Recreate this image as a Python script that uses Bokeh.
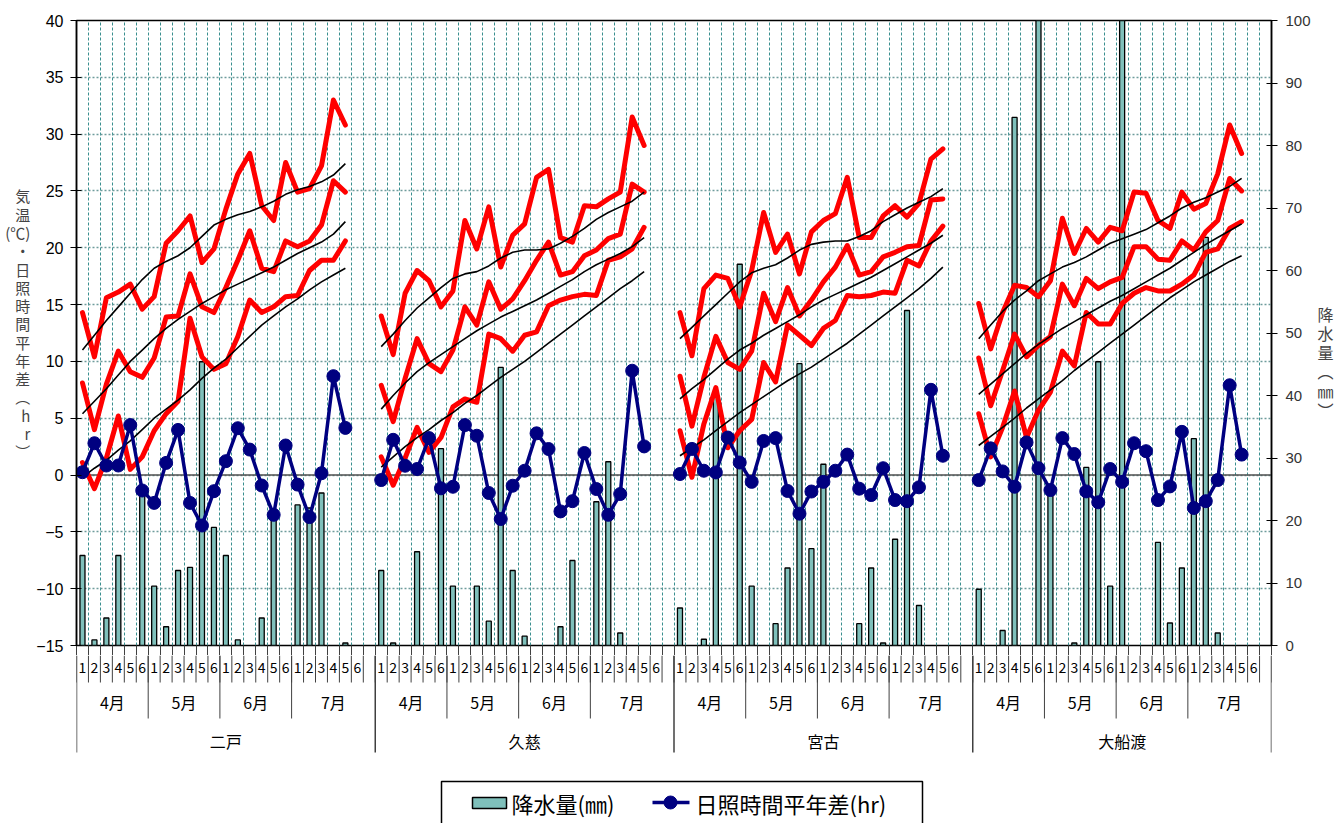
import math
from bokeh.plotting import figure
from bokeh.models import Range1d, LinearAxis, FixedTicker, Span
from bokeh.layouts import column
from bokeh.embed import file_html
from bokeh.resources import INLINE
from bokeh.core.properties import value

# ---------------- categories ----------------
STATIONS = ["二戸", "久慈", "宮古", "大船渡"]
MONTHS = ["4月", "5月", "6月", "7月"]
PENTADS = ["1", "2", "3", "4", "5", "6"]
SLOTS = 25  # 4 months x 6 pentads + 1 empty slot per station

LEFT_TICKS = list(range(-15, 41, 5))
RIGHT_TICKS = list(range(0, 101, 10))
LEFT_TITLE = "気温(℃)・日照時間平年差(hr)"
RIGHT_TITLE = "降水量(㎜)"

# ---------------- data (pentad values, Apr 1 .. Jul 5) ----------------
# 二戸
NINOHE_TMAX = [14.3, 10.4, 15.6, 16.1, 16.8, 14.6, 15.7, 20.4, 21.5, 22.8, 18.7, 19.9, 23.4, 26.5, 28.3, 23.7, 22.4, 27.5, 24.9, 25.2, 27.2, 33.0, 30.8]
NINOHE_TMEAN = [8.1, 4.0, 8.0, 10.9, 9.1, 8.6, 10.3, 13.9, 14.0, 17.7, 14.8, 14.3, 16.5, 18.9, 21.5, 18.2, 17.9, 20.6, 20.1, 20.6, 22.0, 25.9, 24.9]
NINOHE_TMIN = [1.1, -1.2, 1.5, 5.2, 0.5, 1.6, 3.9, 5.4, 6.5, 13.8, 10.4, 9.3, 9.8, 12.2, 15.4, 14.3, 14.8, 15.7, 15.8, 18.0, 18.9, 18.9, 20.6]
NINOHE_NMAX = [11.0, 12.3, 13.6, 14.8, 16.0, 17.2, 18.2, 18.8, 19.3, 20.0, 21.0, 22.0, 22.5, 22.9, 23.2, 23.6, 24.1, 24.7, 25.1, 25.4, 25.8, 26.4, 27.4]
NINOHE_NMEAN = [5.4, 6.5, 7.6, 8.8, 10.0, 11.0, 12.0, 12.9, 13.7, 14.4, 15.1, 15.7, 16.3, 16.8, 17.3, 17.8, 18.3, 18.9, 19.5, 20.0, 20.5, 21.2, 22.3]
NINOHE_NMIN = [-0.2, 0.6, 1.3, 2.2, 3.0, 4.0, 5.0, 5.8, 6.6, 7.5, 8.5, 9.4, 10.2, 11.2, 12.2, 13.2, 14.0, 14.8, 15.5, 16.3, 17.0, 17.6, 18.2]
NINOHE_SUN = [0.25, 2.8, 0.84, 0.84, 4.4, -1.36, -2.45, 1.07, 3.97, -2.45, -4.44, -1.42, 1.22, 4.12, 2.24, -0.92, -3.5, 2.6, -0.84, -3.7, 0.16, 8.7, 4.15]
NINOHE_PRECIP = [14.4, 0.9, 4.4, 14.4, 0, 24.8, 9.5, 3.0, 12.0, 12.5, 45.4, 18.9, 14.4, 0.9, 0, 4.4, 21.0, 0, 22.5, 22.0, 24.4, 0, 0.4]

# 久慈
KUJI_TMAX = [14.0, 10.6, 16.0, 18.0, 17.1, 14.8, 16.2, 22.4, 19.9, 23.6, 18.3, 21.1, 22.1, 26.2, 26.9, 20.9, 20.5, 23.7, 23.6, 24.3, 24.9, 31.5, 29.0]
KUJI_TMEAN = [7.9, 4.7, 8.5, 12.0, 9.8, 9.1, 11.0, 14.8, 13.2, 17.0, 14.6, 15.5, 17.1, 18.9, 20.5, 17.6, 17.9, 19.3, 19.8, 20.8, 21.2, 25.6, 24.9]
KUJI_TMIN = [1.6, -0.9, 1.5, 4.2, 2.0, 3.3, 6.0, 6.7, 6.4, 12.4, 12.0, 10.9, 12.3, 12.6, 14.9, 15.4, 15.7, 15.9, 15.8, 18.9, 19.2, 19.9, 21.8]
KUJI_NMAX = [11.3, 12.4, 13.6, 14.7, 15.6, 16.5, 17.3, 17.7, 17.9, 18.4, 19.1, 19.6, 19.8, 19.8, 19.9, 20.4, 21.0, 21.7, 22.5, 23.1, 23.6, 24.1, 24.9]
KUJI_NMEAN = [5.8, 7.0, 8.1, 9.1, 9.9, 10.6, 11.3, 12.0, 12.7, 13.3, 13.9, 14.4, 14.9, 15.4, 16.0, 16.6, 17.2, 17.9, 18.5, 19.0, 19.5, 20.1, 20.9]
KUJI_NMIN = [0.7, 1.6, 2.5, 3.3, 4.0, 4.8, 5.5, 6.3, 7.0, 7.8, 8.6, 9.3, 10.0, 10.8, 11.6, 12.4, 13.2, 14.0, 14.8, 15.6, 16.4, 17.1, 17.9]
KUJI_SUN = [-0.44, 3.1, 0.82, 0.53, 3.25, -1.17, -1.03, 4.4, 3.46, -1.58, -3.87, -0.94, 0.38, 3.67, 2.29, -3.2, -2.3, 1.94, -1.23, -3.5, -1.67, 9.18, 2.52]
KUJI_PRECIP = [12.0, 0.4, 0, 15.0, 0, 31.5, 9.5, 0, 9.5, 3.9, 44.5, 12.0, 1.5, 0, 0, 3.0, 13.6, 0, 23.0, 29.4, 2.0, 0, 0]

# 宮古
MIYAKO_TMAX = [14.3, 10.5, 16.4, 17.6, 17.3, 14.8, 18.0, 23.1, 19.6, 21.2, 17.7, 21.4, 22.4, 23.0, 26.2, 20.9, 20.9, 22.8, 23.7, 22.7, 23.9, 27.8, 28.7]
MIYAKO_TMEAN = [8.7, 4.3, 8.6, 12.2, 9.9, 9.3, 10.9, 16.0, 13.5, 16.5, 14.0, 15.4, 17.0, 18.3, 20.2, 17.6, 17.9, 19.2, 19.6, 20.1, 20.2, 24.2, 24.3]
MIYAKO_TMIN = [3.9, -0.2, 4.5, 7.7, 2.4, 3.9, 4.9, 9.9, 8.2, 13.2, 12.3, 11.4, 12.9, 13.6, 15.8, 15.7, 15.8, 16.1, 16.0, 18.9, 18.4, 20.6, 21.9]
MIYAKO_NMAX = [12.0, 13.0, 14.0, 15.0, 16.0, 17.0, 17.8, 18.2, 18.5, 19.1, 19.8, 20.3, 20.5, 20.6, 20.6, 21.0, 21.5, 22.3, 22.9, 23.5, 24.0, 24.5, 25.2]
MIYAKO_NMEAN = [6.7, 7.6, 8.4, 9.3, 10.2, 11.0, 11.6, 12.3, 12.9, 13.5, 14.1, 14.8, 15.4, 15.9, 16.4, 16.9, 17.4, 18.0, 18.6, 19.2, 19.8, 20.4, 21.1]
MIYAKO_NMIN = [1.7, 2.4, 3.1, 3.9, 4.7, 5.5, 6.2, 6.9, 7.6, 8.3, 8.9, 9.5, 10.2, 10.9, 11.6, 12.4, 13.2, 14.0, 14.8, 15.6, 16.4, 17.3, 18.3]
MIYAKO_SUN = [0.09, 2.3, 0.38, 0.23, 3.3, 1.1, -0.6, 3.0, 3.25, -1.4, -3.4, -1.45, -0.6, 0.38, 1.8, -1.2, -1.76, 0.6, -2.2, -2.3, -1.08, 7.5, 1.7]
MIYAKO_PRECIP = [6.0, 0, 1.0, 39.7, 0, 61.0, 9.5, 0, 3.5, 12.4, 45.1, 15.5, 29.0, 0, 0, 3.5, 12.4, 0.4, 17.0, 53.6, 6.4, 0, 0]

# 大船渡
OFUNATO_TMAX = [15.1, 11.1, 14.3, 16.7, 16.5, 15.7, 17.1, 22.6, 19.5, 21.7, 20.5, 21.8, 21.5, 24.9, 24.8, 22.4, 21.7, 24.9, 23.4, 23.9, 26.5, 30.8, 28.3]
OFUNATO_TMEAN = [10.3, 6.1, 9.2, 12.4, 10.4, 11.4, 12.2, 16.8, 14.9, 17.3, 16.4, 17.0, 17.4, 20.1, 20.1, 19.0, 18.9, 20.6, 19.8, 21.4, 22.4, 26.1, 25.0]
OFUNATO_TMIN = [5.4, 1.6, 4.2, 7.4, 3.3, 5.7, 7.3, 10.9, 9.6, 14.3, 13.3, 13.3, 15.1, 16.0, 16.5, 16.2, 16.2, 16.8, 17.6, 19.6, 19.9, 21.7, 22.3]
OFUNATO_NMAX = [12.0, 13.2, 14.4, 15.4, 16.2, 17.1, 17.7, 18.3, 18.7, 19.2, 19.8, 20.4, 20.8, 21.2, 21.6, 22.2, 22.8, 23.5, 24.0, 24.4, 24.9, 25.4, 26.1]
OFUNATO_NMEAN = [7.1, 8.0, 8.9, 9.8, 10.7, 11.5, 12.2, 12.9, 13.5, 14.1, 14.7, 15.3, 15.8, 16.4, 17.0, 17.6, 18.2, 18.9, 19.6, 20.3, 20.9, 21.5, 22.1]
OFUNATO_NMIN = [2.6, 3.4, 4.2, 5.0, 5.9, 6.7, 7.5, 8.3, 9.2, 10.0, 10.8, 11.6, 12.4, 13.2, 14.0, 14.8, 15.6, 16.3, 17.0, 17.6, 18.2, 18.8, 19.3]
OFUNATO_SUN = [-0.44, 2.35, 0.32, -1.03, 2.87, 0.6, -1.32, 3.25, 1.85, -1.44, -2.4, 0.53, -0.6, 2.8, 2.1, -2.2, -1.0, 3.8, -2.9, -2.3, -0.44, 7.9, 1.8]
OFUNATO_PRECIP = [9.0, 0, 2.4, 84.5, 0, 110.0, 25.0, 0, 0.4, 28.5, 45.4, 9.5, 105.0, 0, 0, 16.5, 3.6, 12.4, 33.1, 65.3, 2.0, 0, 0]

TMAX = [NINOHE_TMAX, KUJI_TMAX, MIYAKO_TMAX, OFUNATO_TMAX]
TMEAN = [NINOHE_TMEAN, KUJI_TMEAN, MIYAKO_TMEAN, OFUNATO_TMEAN]
TMIN = [NINOHE_TMIN, KUJI_TMIN, MIYAKO_TMIN, OFUNATO_TMIN]
NMAX = [NINOHE_NMAX, KUJI_NMAX, MIYAKO_NMAX, OFUNATO_NMAX]
NMEAN = [NINOHE_NMEAN, KUJI_NMEAN, MIYAKO_NMEAN, OFUNATO_NMEAN]
NMIN = [NINOHE_NMIN, KUJI_NMIN, MIYAKO_NMIN, OFUNATO_NMIN]
SUN = [NINOHE_SUN, KUJI_SUN, MIYAKO_SUN, OFUNATO_SUN]
PRECIP = [NINOHE_PRECIP, KUJI_PRECIP, MIYAKO_PRECIP, OFUNATO_PRECIP]

# ---------------- styles ----------------
JP = "Noto Sans CJK JP"
NUM = "Liberation Sans"
BAR_FILL = "#7fc0bb"
NAVY = "#000080"
RED = "#ff0000"
SEP = "#404040"
W = 1336
FRAME_L, FRAME_R = 76, 1271
MAIN_H = 655          # frame 20..645 plus a 10px strip for the tick separators
NSLOT = SLOTS * len(STATIONS)
SLOT_PX = (FRAME_R - FRAME_L) / NSLOT
PAD = "\u3000"        # ideographic space used to shift stacked titles


def series_xy(per_station):
    xs, ys = [], []
    for s, vals in enumerate(per_station):
        for j in range(SLOTS):
            xs.append(s * SLOTS + j + 0.5)
            v = vals[j] if j < len(vals) else None
            ys.append(float("nan") if v is None else v)
    return xs, ys


def stacked(t, before=0, after=0):
    # vertical (upright) writing: one character per line, brackets in vertical form
    out = []
    for ch in t.replace("(℃)", "\u0001"):
        if ch == "\u0001":
            out.append("(℃)")
        elif ch == "(":
            out.append("︵")
        elif ch == ")":
            out.append("︶")
        else:
            out.append(ch)
    return "\n".join([PAD] * before + out + [PAD] * after)


p = figure(width=W, height=MAIN_H, x_range=Range1d(0, NSLOT),
           y_range=Range1d(-15, 40), x_axis_location="below", y_axis_location="left",
           toolbar_location=None, output_backend="svg",
           min_border_left=FRAME_L, min_border_right=W - FRAME_R, min_border_top=20,
           min_border_bottom=MAIN_H - 645,
           outline_line_color="black", outline_line_width=1.5)
p.extra_y_ranges = {"precip": Range1d(0, 100)}

# x axis only provides the separator ticks right under the frame (labels drawn below)
xa = p.xaxis[0]
xa.ticker = FixedTicker(ticks=list(range(0, NSLOT + 1)))
xa.major_tick_in = 0
xa.major_tick_out = MAIN_H - 645
xa.major_tick_line_color = SEP
xa.major_tick_line_width = 1
xa.minor_tick_line_color = None
xa.axis_line_color = None
xa.major_label_text_font_size = "0px"
xa.major_label_text_color = None
xa.major_label_standoff = 0

for g in p.xgrid:
    g.grid_line_color = "#3a8f8f"
    g.grid_line_dash = "3 2"
    g.grid_line_width = 1

has_orient = "axis_label_orientation" in p.yaxis[0].properties()

ly = p.yaxis[0]
ly.ticker = FixedTicker(ticks=LEFT_TICKS)
ly.major_label_text_font = NUM
ly.major_label_text_font_size = "16px"
ly.major_label_text_color = "black"
ly.major_tick_in = 5
ly.major_tick_out = 6
ly.minor_tick_line_color = None
ly.axis_line_color = "black"
ly.axis_line_width = 1.5
ly.major_tick_line_width = 1.2
ly.major_label_standoff = 7
ly.axis_label = stacked(LEFT_TITLE, after=1) if has_orient else LEFT_TITLE
ly.axis_label_text_font = JP
ly.axis_label_text_font_size = "15px"
ly.axis_label_text_font_style = "normal"
ly.axis_label_text_line_height = 0.87
ly.axis_label_standoff = 3
if has_orient:
    ly.axis_label_orientation = "horizontal"

for g in p.ygrid:
    g.grid_line_color = "#6f9c9c"
    g.grid_line_dash = "2 2"
    g.grid_line_width = 1.5

ry = LinearAxis(y_range_name="precip", ticker=FixedTicker(ticks=RIGHT_TICKS))
ry.major_label_text_font = NUM
ry.major_label_text_font_size = "15px"
ry.major_label_text_color = "#333333"
ry.major_tick_in = 5
ry.major_tick_out = 6
ry.minor_tick_line_color = None
ry.axis_line_color = "black"
ry.axis_line_width = 1.5
ry.major_tick_line_width = 1.2
ry.major_label_standoff = 8
ry.axis_label = stacked(RIGHT_TITLE, before=3) if has_orient else RIGHT_TITLE
ry.axis_label_text_font = JP
ry.axis_label_text_font_size = "16px"
ry.axis_label_text_font_style = "normal"
ry.axis_label_text_line_height = 0.8
ry.axis_label_standoff = 4
if has_orient:
    ry.axis_label_orientation = "horizontal"
p.add_layout(ry, "right")

p.add_layout(Span(location=0, dimension="width", line_color="#505050", line_width=1.5, level="underlay"))

# precipitation bars
bx, bt = [], []
for s, vals in enumerate(PRECIP):
    for j, v in enumerate(vals):
        if v and v > 0:
            bx.append(s * SLOTS + j + 0.5)
            bt.append(v)
p.vbar(x=bx, top=bt, bottom=0, width=0.42, y_range_name="precip",
       fill_color=BAR_FILL, line_color="black", line_width=1.3)

# observed temperatures
for ser in (TMAX, TMEAN, TMIN):
    xs, ys = series_xy(ser)
    p.line(xs, ys, line_color=RED, line_width=5, line_join="round", line_cap="round")

# normals
for ser in (NMAX, NMEAN, NMIN):
    xs, ys = series_xy(ser)
    p.line(xs, ys, line_color="black", line_width=1.6)

# sunshine anomaly
xs, ys = series_xy(SUN)
p.line(xs, ys, line_color=NAVY, line_width=3.5)
p.scatter(xs, ys, size=13, fill_color=NAVY, line_color=NAVY)


def lx(page_x):
    return (page_x - FRAME_L) / SLOT_PX


# ---------------- category label area ----------------
p2 = figure(width=W, height=823 - MAIN_H, x_range=p.x_range, y_range=Range1d(823, MAIN_H),
            x_axis_location=None, y_axis_location=None, toolbar_location=None,
            output_backend="svg", min_border_left=FRAME_L, min_border_right=W - FRAME_R,
            min_border_top=0, min_border_bottom=0, outline_line_color=None)
for g in list(p2.xgrid) + list(p2.ygrid):
    g.visible = False

nst = len(STATIONS)
pent_b = list(range(0, NSLOT + 1))
month_b = [s * SLOTS + m * len(PENTADS) for s in range(nst) for m in range(1, len(MONTHS))]
stat_b = [s * SLOTS for s in range(nst + 1)]
p2.segment(x0=pent_b, y0=[MAIN_H] * len(pent_b), x1=pent_b, y1=[682] * len(pent_b),
           line_color=SEP, line_width=1)
p2.segment(x0=month_b, y0=[MAIN_H] * len(month_b), x1=month_b, y1=[718] * len(month_b),
           line_color=SEP, line_width=1)
p2.segment(x0=stat_b, y0=[MAIN_H] * len(stat_b), x1=stat_b, y1=[752] * len(stat_b),
           line_color=SEP, line_width=1.5)

px_, pt_ = [], []
mx_, mt_ = [], []
sx_, st_ = [], []
for s in range(nst):
    base = s * SLOTS
    for m, mon in enumerate(MONTHS):
        for j, pen in enumerate(PENTADS):
            px_.append(base + m * 6 + j + 0.5)
            pt_.append(pen)
        start = base + m * 6
        end = base + (m + 1) * 6 if m < len(MONTHS) - 1 else base + SLOTS
        mx_.append((start + end) / 2)
        mt_.append(mon)
    sx_.append(base + SLOTS / 2)
    st_.append(STATIONS[s])

p2.text(x=px_, y=[667] * len(px_), text=pt_, text_font=value(JP), text_font_size=value("14px"),
        text_align="center", text_baseline="middle", text_color="black")
p2.text(x=mx_, y=[701] * len(mx_), text=mt_, text_font=value(JP), text_font_size=value("16px"),
        text_align="center", text_baseline="middle", text_color="black")
p2.text(x=sx_, y=[740] * len(sx_), text=st_, text_font=value(JP), text_font_size=value("16px"),
        text_align="center", text_baseline="middle", text_color="black")

# legend (page-pixel positions converted to slot units)
p2.quad(left=[lx(441)], right=[lx(922)], top=[781], bottom=[850], fill_color=None,
        line_color="black", line_width=1.5)
p2.quad(left=[lx(472)], right=[lx(506)], top=[797], bottom=[808], fill_color=BAR_FILL,
        line_color="black", line_width=1.5)
p2.text(x=[lx(511)], y=[802], text=["降水量(㎜)"], text_font=value(JP), text_font_size=value("22px"),
        text_align="left", text_baseline="middle", text_color="black")
p2.line(x=[lx(652), lx(689)], y=[802, 802], line_color=NAVY, line_width=3.5)
p2.scatter(x=[lx(670)], y=[802], size=13, fill_color=NAVY, line_color=NAVY)
p2.text(x=[lx(695)], y=[802], text=["日照時間平年差(hr)"], text_font=value(JP),
        text_font_size=value("22px"), text_align="left", text_baseline="middle", text_color="black")

layout = column(p, p2, spacing=0)
open("out.html", "w").write(file_html(layout, INLINE))
